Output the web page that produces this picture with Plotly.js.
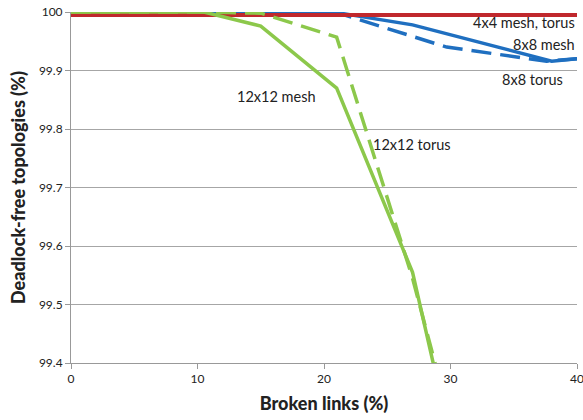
<!DOCTYPE html>
<html>
<head>
<meta charset="utf-8">
<script src="https://cdn.plot.ly/plotly-3.0.1.min.js"></script>
<style>html,body{margin:0;padding:0;background:#fff;}#chart{width:583px;height:420px;}</style>
</head>
<body>
<div id="chart"></div>
<script>
// Data
const mesh4x4_x = [0, 10, 20, 30, 40];
const mesh4x4_y = [99.995, 99.995, 99.995, 99.995, 99.995];

const mesh8x8_x = [0, 10, 15, 21, 27, 38, 40];
const mesh8x8_y = [100, 100, 100, 99.999, 99.978, 99.916, 99.92];

const torus8x8_x = [0, 10, 15, 21, 29.7, 37.6, 40];
const torus8x8_y = [100, 100, 100, 99.999, 99.94, 99.916, 99.92];

const mesh12_x = [0, 5, 10.5, 15, 21, 27, 30];
const mesh12_y = [100, 100, 100, 99.976, 99.87, 99.555, 99.27];

const torus12_x = [0, 5, 10, 15, 21, 27, 30];
const torus12_y = [100, 100, 100, 99.998, 99.957, 99.545, 99.3];

const xTicks = [0, 10, 20, 30, 40];
const yTicks = [99.4, 99.5, 99.6, 99.7, 99.8, 99.9, 100];
const yTickText = ['99.4', '99.5', '99.6', '99.7', '99.8', '99.9', '100'];

const labels = [
  {text: '4x4 mesh, torus', x: 40, y: 99.982, xanchor: 'right'},
  {text: '8x8 mesh', x: 40, y: 99.944, xanchor: 'right'},
  {text: '8x8 torus', x: 33.9, y: 99.884, xanchor: 'left'},
  {text: '12x12 mesh', x: 13.0, y: 99.855, xanchor: 'left'},
  {text: '12x12 torus', x: 23.7, y: 99.774, xanchor: 'left'}
];

const RED = '#C0282D', BLUE = '#1F6FC0', GREEN = '#8CC84B';

const traces = [
  {x: mesh8x8_x, y: mesh8x8_y, mode: 'lines', line: {color: BLUE, width: 3.5}},
  {x: torus8x8_x, y: torus8x8_y, mode: 'lines', line: {color: BLUE, width: 3.5, dash: '20px,9px'}},
  {x: mesh4x4_x, y: mesh4x4_y, mode: 'lines', line: {color: RED, width: 4}},
  {x: mesh12_x, y: mesh12_y, mode: 'lines', line: {color: GREEN, width: 3.5}},
  {x: torus12_x, y: torus12_y, mode: 'lines', line: {color: GREEN, width: 3.5, dash: '20px,9px'}}
];

const FONT = 'Lato, "Open Sans", sans-serif';

const layout = {
  width: 583, height: 420,
  margin: {l: 71, r: 6, t: 12, b: 57},
  paper_bgcolor: '#fff', plot_bgcolor: '#fff',
  showlegend: false,
  font: {family: FONT, color: '#222', size: 12},
  xaxis: {
    range: [0, 40], tickvals: xTicks, ticks: 'outside', ticklen: 5,
    tickcolor: '#999', showgrid: false, zeroline: false,
    showline: true, linecolor: '#999', linewidth: 1,
    ticklabeloverflow: 'allow',
    tickfont: {family: FONT, size: 12, color: '#222'},
    title: {text: 'Broken links (%)', font: {family: FONT, size: 18, weight: 900, color: '#222'}, standoff: 11}
  },
  yaxis: {
    range: [99.4, 100], tickvals: yTicks, ticktext: yTickText, ticks: 'outside', ticklen: 5,
    tickcolor: '#999', showgrid: true, gridcolor: '#a6a6a6', gridwidth: 1, zeroline: false,
    showline: true, linecolor: '#999', linewidth: 1,
    tickfont: {family: FONT, size: 12, color: '#222'},
    title: {text: 'Deadlock-free topologies (%)', font: {family: FONT, size: 18, weight: 900, color: '#222'}, standoff: 8}
  },
  annotations: labels.map(l => ({
    text: l.text, x: l.x, y: l.y, xref: 'x', yref: 'y', xanchor: l.xanchor, yanchor: 'middle',
    showarrow: false, font: {family: FONT, size: 14.5, color: '#222'}
  }))
};

Plotly.newPlot('chart', traces, layout, {displayModeBar: false, staticPlot: true});
</script>
</body>
</html>
